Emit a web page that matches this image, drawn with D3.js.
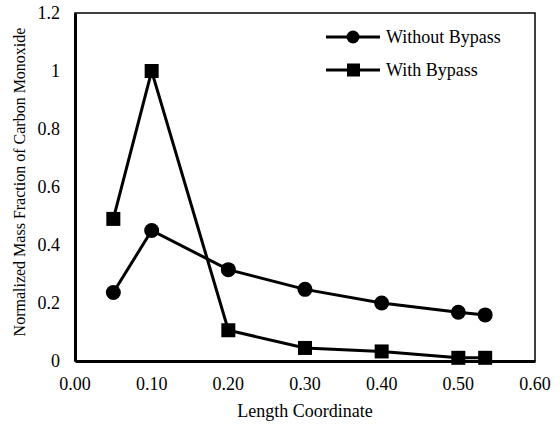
<!DOCTYPE html>
<html>
<head>
<meta charset="utf-8">
<script src="https://cdn.jsdelivr.net/npm/d3@7"></script>
</head>
<body style="margin:0">
<script>
// Data
let lengthCoord = [0.05, 0.10, 0.20, 0.30, 0.40, 0.50, 0.535]
let withoutBypass = [0.236, 0.45, 0.315, 0.247, 0.200, 0.168, 0.159]
let withBypass = [0.49, 1.0, 0.106, 0.045, 0.033, 0.011, 0.011]
let seriesNames = ['Without Bypass', 'With Bypass']
let xTicks = [0, 0.1, 0.2, 0.3, 0.4, 0.5, 0.6]
let yTicks = [0, 0.2, 0.4, 0.6, 0.8, 1, 1.2]

// Plot constants
let width = 560
let height = 425
let margin = {t: 13, r: 25, b: 64, l: 75}
let plotW = width - margin.l - margin.r
let plotH = height - margin.t - margin.b
let serif = 'Liberation Serif'

let svg = d3.select('body')
  .append('svg')
  .attr('width', width)
  .attr('height', height)

let x = d3.scaleLinear().domain([0, 0.6]).range([margin.l, margin.l + plotW])
let y = d3.scaleLinear().domain([0, 1.2]).range([margin.t + plotH, margin.t])

// Frame (top and right thinner)
svg.append('rect')
  .attr('x', margin.l)
  .attr('y', margin.t)
  .attr('width', plotW)
  .attr('height', plotH)
  .style('fill', 'none')
  .style('stroke', '#000')
  .style('stroke-width', 1.5)

// Axes: lines only, labels drawn as plain text below
let xAxis = d3.axisBottom(x).tickValues(xTicks).tickSize(0).tickFormat('')
let yAxis = d3.axisLeft(y).tickValues(yTicks).tickSize(0).tickFormat('')

svg.append('g')
  .attr('transform', `translate(0, ${margin.t + plotH})`)
  .call(xAxis)
  .call(g => g.select('.domain').style('stroke-width', 3))

svg.append('g')
  .attr('transform', `translate(${margin.l}, 0)`)
  .call(yAxis)
  .call(g => g.select('.domain').style('stroke-width', 3))

svg.selectAll('text.xtick')
  .data(xTicks)
  .enter().append('text')
  .attr('class', 'xtick')
  .attr('x', d => x(d))
  .attr('y', margin.t + plotH + 29)
  .attr('text-anchor', 'middle')
  .attr('font-family', serif)
  .attr('font-size', 18)
  .text(d3.format('.2f'))

svg.selectAll('text.ytick')
  .data(yTicks)
  .enter().append('text')
  .attr('class', 'ytick')
  .attr('x', margin.l - 15)
  .attr('y', d => y(d) + 6)
  .attr('text-anchor', 'end')
  .attr('font-family', serif)
  .attr('font-size', 18)
  .text(d => String(+d.toFixed(1)))

// Axis titles
svg.append('text')
  .attr('x', margin.l + plotW / 2)
  .attr('y', 417)
  .attr('text-anchor', 'middle')
  .attr('font-family', serif)
  .attr('font-size', 18)
  .text('Length Coordinate')

svg.append('text')
  .attr('transform', `translate(25, ${margin.t + plotH / 2 - 5}) rotate(-90)`)
  .attr('text-anchor', 'middle')
  .attr('font-family', serif)
  .attr('font-size', 16)
  .text('Normalized Mass Fraction of Carbon Monoxide')

// Lines
let line = d3.line()
  .x((d, i) => x(lengthCoord[i]))
  .y(d => y(d))

let series = [withoutBypass, withBypass]
series.forEach(function(vals) {
  svg.append('path')
    .datum(vals)
    .attr('d', line)
    .style('fill', 'none')
    .style('stroke', '#000')
    .style('stroke-width', 3)
})

// Markers
svg.append('g').selectAll('circle')
  .data(withoutBypass)
  .enter().append('circle')
  .attr('cx', (d, i) => x(lengthCoord[i]))
  .attr('cy', d => y(d))
  .attr('r', 7.5)
  .style('fill', '#000')

let sq = 14
svg.append('g').selectAll('rect')
  .data(withBypass)
  .enter().append('rect')
  .attr('x', (d, i) => x(lengthCoord[i]) - sq / 2)
  .attr('y', d => y(d) - sq / 2)
  .attr('width', sq)
  .attr('height', sq)
  .style('fill', '#000')

// Legend
seriesNames.forEach(function(name, i) {
  let ly = 37 + i * 33
  svg.append('line')
    .attr('x1', 326).attr('x2', 380)
    .attr('y1', ly).attr('y2', ly)
    .style('stroke', '#000')
    .style('stroke-width', 3)
  if (i == 0) {
    svg.append('circle').attr('cx', 353).attr('cy', ly).attr('r', 6.5).style('fill', '#000')
  } else {
    svg.append('rect').attr('x', 347).attr('y', ly - 6.5).attr('width', 13).attr('height', 13).style('fill', '#000')
  }
  svg.append('text')
    .attr('x', 386)
    .attr('y', ly + 6)
    .attr('font-family', serif)
    .attr('font-size', 18)
    .text(name)
})
</script>
</body>
</html>
